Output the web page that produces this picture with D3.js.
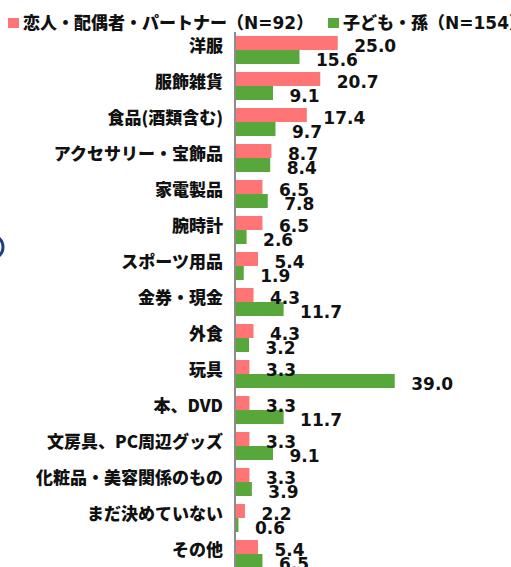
<!DOCTYPE html>
<html><head><meta charset="utf-8">
<script src="https://cdn.jsdelivr.net/npm/d3@7"></script>
<style>body{margin:0;background:#fff;}svg{display:block;}</style>
</head><body>
<script>
const categories = ["洋服","服飾雑貨","食品(酒類含む)","アクセサリー・宝飾品","家電製品","腕時計","スポーツ用品","金券・現金","外食","玩具","本、DVD","文房具、PC周辺グッズ","化粧品・美容関係のもの","まだ決めていない","その他"];
const partnerValues = [25.0,20.7,17.4,8.7,6.5,6.5,5.4,4.3,4.3,3.3,3.3,3.3,3.3,2.2,5.4];
const childValues = [15.6,9.1,9.7,8.4,7.8,2.6,1.9,11.7,3.2,39.0,11.7,9.1,3.9,0.6,6.5];
const seriesNames = ["恋人・配偶者・パートナー（N=92）","子ども・孫（N=154）"];
const colors = ["#FF7575","#57A73B"];

const W = 511, H = 567;
const svg = d3.select("body").append("svg").attr("width", W).attr("height", H);

const x = d3.scaleLinear().domain([0, 40]).range([236, 236 + 4.07 * 40]);
const y = d3.scaleBand().domain(categories).range([32, 32 + 36 * categories.length])
  .paddingInner(8 / 36).paddingOuter(4 / 36);
const sub = d3.scaleBand().domain([0, 1]).range([0, y.bandwidth()]);

const numFont = "'DejaVu Sans','Noto Sans CJK JP',sans-serif";
const jpFont = "'Noto Sans CJK JP','DejaVu Sans',sans-serif";

// decorative arc at left edge
svg.append("circle").attr("cx", -9).attr("cy", 247).attr("r", 12)
  .attr("fill", "none").attr("stroke", "#1F3C88").attr("stroke-width", 3);

const rows = [partnerValues, childValues];
rows.forEach((vals, si) => {
  svg.append("g").selectAll("rect").data(vals).join("rect")
    .attr("x", x(0))
    .attr("y", (d, i) => y(categories[i]) + sub(si))
    .attr("width", d => x(d) - x(0))
    .attr("height", sub.bandwidth())
    .attr("fill", colors[si]);
});
rows.forEach((vals, si) => {
  svg.append("g").selectAll("text").data(vals).join("text")
    .attr("x", d => x(d) + 16.5)
    .attr("y", (d, i) => y(categories[i]) + sub(si) + sub.bandwidth() + 1.5)
    .attr("font-family", numFont).attr("font-weight", "bold").attr("font-size", 17)
    .attr("fill", "#111")
    .text(d => d.toFixed(1));
});

// axis
const yAxis = d3.axisLeft(y).tickSize(0).tickPadding(12);
const ag = svg.append("g").attr("transform", `translate(${x(0) - 1},0)`).call(yAxis);
ag.select(".domain").attr("stroke", "#8C8C8C").attr("stroke-width", 2)
  .attr("d", `M0,32V${H}`);
ag.selectAll(".tick text")
  .attr("font-family", jpFont).attr("font-weight", 900).attr("font-size", 17)
  .attr("fill", "#111").attr("dy", "0.32em")
  .attr("y", -3);

// legend
const legX = [8, 328];
seriesNames.forEach((n, i) => {
  svg.append("rect").attr("x", legX[i]).attr("y", 18).attr("width", 11).attr("height", 10).attr("fill", colors[i]);
  svg.append("text").attr("x", legX[i] + 15).attr("y", 28.5)
    .attr("font-family", numFont).attr("font-weight", 900).attr("font-size", 17)
    .attr("fill", "#111").text(n);
});
</script>
</body></html>
